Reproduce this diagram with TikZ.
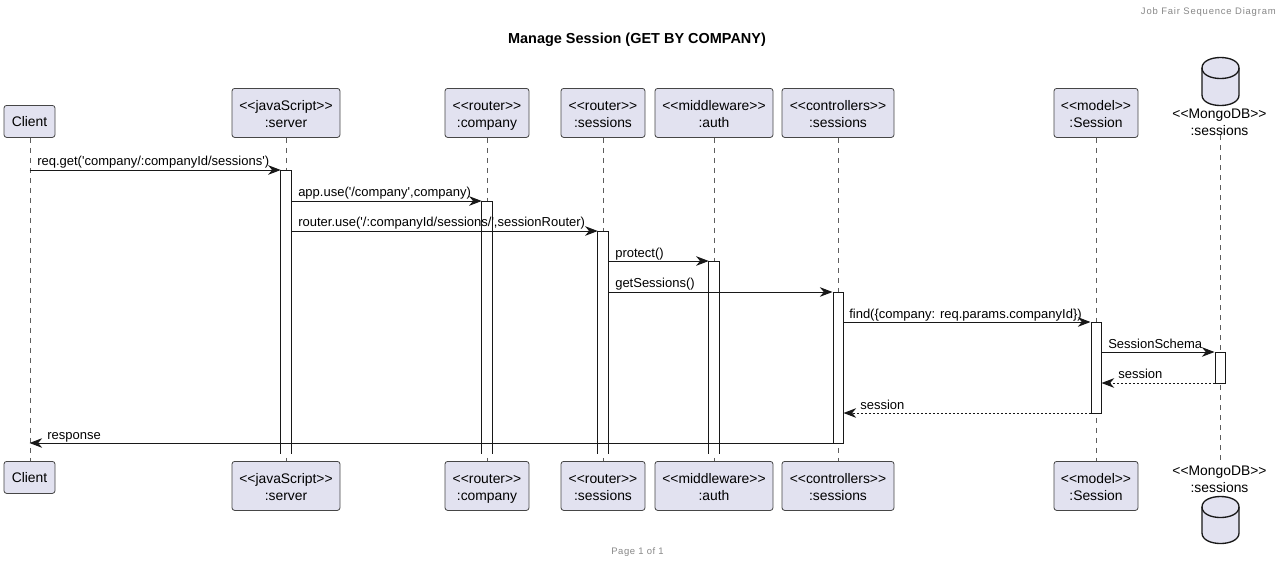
\documentclass[tikz,border=0pt]{standalone}
\usepackage{fontspec}
\setmainfont[Ligatures=TeXOff]{Liberation Sans}
\usetikzlibrary{arrows.meta}
\definecolor{boxfill}{HTML}{E2E2F0}
\definecolor{ink}{HTML}{181818}
\definecolor{hdr}{HTML}{888888}
\newcommand{\bodyfont}{\fontsize{10.4}{12.75}\selectfont}
\newcommand{\msgfont}{\fontsize{9.75}{12}\selectfont}
\newcommand{\twolines}[2]{\rule{0pt}{9pt}\smash{#1}\\\smash{#2}}
\newcommand{\oneline}[1]{\rule{0pt}{7pt}\smash{#1}}
\tikzset{
  part/.style={draw=ink!80,fill=boxfill,line width=.6pt,rounded corners=2pt,minimum height=36.75pt,inner sep=0pt,align=center,font=\bodyfont,anchor=north},
  plainlabel/.style={inner sep=0pt,align=center,font=\bodyfont},
  life/.style={draw=ink!70,line width=.4pt,dash pattern=on 3.75pt off 3.75pt},
  barclosed/.style={draw=ink,fill=white,line width=.75pt,minimum width=7.5pt,inner sep=0pt,anchor=north},
  baropen/.style={fill=white,minimum width=7.5pt,inner sep=0pt,anchor=north},
  baredge/.style={draw=ink,line width=.75pt},
  msg/.style={draw=ink,line width=.75pt,-{Stealth[length=9.5pt,width=7.2pt,inset=3pt]}},
  reply/.style={msg,dash pattern=on 1.5pt off 1.5pt},
  msglabel/.style={inner sep=0pt,anchor=base west,font=\msgfont},
  dbshape/.style={draw=ink,fill=boxfill,line width=1pt}
}
\begin{document}
\begin{tikzpicture}[x=.75pt,y=-.75pt]
\useasboundingbox (0,0) rectangle (1281,562);
\fill[white] (0,0) rectangle (1281,562);
% texts
\node[inner sep=0pt,anchor=east,text=hdr,font=\fontsize{7.1}{9}\selectfont\addfontfeatures{LetterSpace=8.5}] (hd) at (1276,12) {Job Fair Sequence Diagram};
\node[inner sep=0pt,text=black,font=\fontsize{10.85}{12}\selectfont\bfseries] (ttl) at (637,40) {Manage Session (GET BY COMPANY)};
\node[inner sep=0pt,text=hdr,font=\fontsize{7.1}{9}\selectfont\addfontfeatures{LetterSpace=6}] (ft) at (637.5,552) {Page 1 of 1};
% top participants
\node[part,minimum width=38.25pt,minimum height=24pt] (ct) at (29.5,105) {\oneline{Client}};
\node[part,minimum width=81pt] (st) at (286,88) {\twolines{<<javaScript>>}{:server}};
\node[part,minimum width=63pt] (rt) at (487,88) {\twolines{<<router>>}{:company}};
\node[part,minimum width=63pt] (at) at (603,88) {\twolines{<<router>>}{:sessions}};
\node[part,minimum width=88.5pt] (mt) at (714,88) {\twolines{<<middleware>>}{:auth}};
\node[part,minimum width=84pt] (kt) at (838,88) {\twolines{<<controllers>>}{:sessions}};
\node[part,minimum width=63pt] (ot) at (1096,88) {\twolines{<<model>>}{:Session}};
\node[plainlabel] (dt) at (1219.5,120.5) {\twolines{<<MongoDB>>}{:sessions}};
% bottom participants
\node[part,minimum width=38.25pt,minimum height=24pt] (cb) at (29.5,461) {\oneline{Client}};
\node[part,minimum width=81pt] (sb) at (286,461) {\twolines{<<javaScript>>}{:server}};
\node[part,minimum width=63pt] (rb) at (487,461) {\twolines{<<router>>}{:company}};
\node[part,minimum width=63pt] (ab) at (603,461) {\twolines{<<router>>}{:sessions}};
\node[part,minimum width=88.5pt] (mb) at (714,461) {\twolines{<<middleware>>}{:auth}};
\node[part,minimum width=84pt] (kb) at (838,461) {\twolines{<<controllers>>}{:sessions}};
\node[part,minimum width=63pt] (ob) at (1096,461) {\twolines{<<model>>}{:Session}};
\node[plainlabel] (db) at (1219.5,478) {\twolines{<<MongoDB>>}{:sessions}};
% databases
\draw[dbshape] (1202,68) .. controls (1202,54) and (1239,54) .. (1239,68)
  -- (1239,95) .. controls (1239,109) and (1202,109) .. (1202,95) -- cycle;
\draw[dbshape,fill=none] (1202,68) .. controls (1202,82) and (1239,82) .. (1239,68);
\draw[dbshape] (1202,507) .. controls (1202,493) and (1239,493) .. (1239,507)
  -- (1239,533) .. controls (1239,547) and (1202,547) .. (1202,533) -- cycle;
\draw[dbshape,fill=none] (1202,507) .. controls (1202,521) and (1239,521) .. (1239,507);
% lifelines
\path[life] (ct.south -| 30,0) -- (cb.north -| 30,0);
\path[life] (st.south) -- (sb.north);
\path[life] (rt.south) -- (rb.north);
\path[life] (at.south) -- (ab.north);
\path[life] (mt.south) -- (mb.north);
\path[life] (kt.south) -- (kb.north);
\path[life] (ot.south) -- (ob.north);
\path[life] (dt.south -| 1220,0) -- (db.north -| 1220,0);
% activation bars
\node[baropen,minimum height=212.25pt] (sa) at (286,170) {};
\draw[baredge] (sa.south west) -- (sa.north west) -- (sa.north east) -- (sa.south east);
\node[baropen,minimum height=189pt] (ra) at (487,201) {};
\draw[baredge] (ra.south west) -- (ra.north west) -- (ra.north east) -- (ra.south east);
\node[baropen,minimum height=166.5pt] (aa) at (603,231) {};
\draw[baredge] (aa.south west) -- (aa.north west) -- (aa.north east) -- (aa.south east);
\node[baropen,minimum height=144pt] (ma) at (714,261) {};
\draw[baredge] (ma.south west) -- (ma.north west) -- (ma.north east) -- (ma.south east);
\node[barclosed,minimum height=113.25pt] (ka) at (838,292) {};
\node[barclosed,minimum height=68.25pt] (oa) at (1096,322) {};
\node[barclosed,minimum height=23.25pt] (da) at (1220,352) {};
% messages
\coordinate (y2) at (0,201);
\coordinate (y3) at (0,231);
\coordinate (y4) at (0,261);
\coordinate (y5) at (0,292);
\coordinate (y6) at (0,322);
\coordinate (y7) at (0,352);
\coordinate (y8) at (0,383);
\coordinate (y9) at (0,413);
\coordinate (y10) at (0,443);
\draw[msg] (ct.south |- sa.north) -- (sa.north west);
\draw[msg] (sa.east |- y2) -- (ra.west |- y2);
\draw[msg] (sa.east |- y3) -- (aa.west |- y3);
\draw[msg] (aa.east |- y4) -- (ma.west |- y4);
\draw[msg] (aa.east |- y5) -- (ka.west |- y5);
\draw[msg] (ka.east |- y6) -- (oa.west |- y6);
\draw[msg] (oa.east |- y7) -- (da.west |- y7);
\draw[reply] (da.west |- y8) -- (oa.east |- y8);
\draw[reply] (oa.west |- y9) -- (ka.east |- y9);
\draw[msg] (ka.west |- y10) -- (ct.south |- y10);
% labels
\node[msglabel] (l1) at (37,165) {req.get('company/:companyId/sessions')};
\node[msglabel] (l2) at (298,196) {app.use('/company',company)};
\node[msglabel] (l3) at (298,226) {router.use('/:companyId/sessions/',sessionRouter)};
\node[msglabel] (l4) at (615,257) {protect()};
\node[msglabel] (l5) at (615,287) {getSessions()};
\node[msglabel] (l6) at (849,318) {find(\{company: req.params.companyId\})};
\node[msglabel] (l7) at (1108,348) {SessionSchema};
\node[msglabel] (l8) at (1118,378) {session};
\node[msglabel] (l9) at (860,409) {session};
\node[msglabel] (l10) at (47,439) {response};
\end{tikzpicture}
\end{document}
